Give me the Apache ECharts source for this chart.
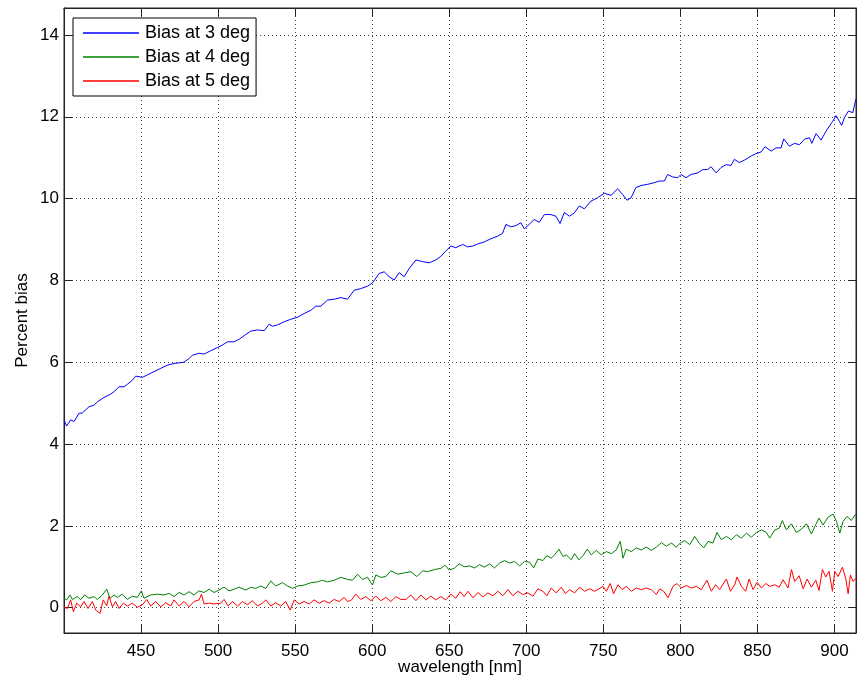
<!DOCTYPE html>
<html><head><meta charset="utf-8">
<script src="https://cdn.jsdelivr.net/npm/echarts@6/dist/echarts.min.js"></script>
<style>html,body{margin:0;padding:0;background:#fff}#c{width:857px;height:685px}</style>
</head><body><div id="c"></div>
<script>
var seriesNames = ['Bias at 3 deg', 'Bias at 4 deg', 'Bias at 5 deg'];
var xTickLabels = [450, 500, 550, 600, 650, 700, 750, 800, 850, 900];
var yTickLabels = [0, 2, 4, 6, 8, 10, 12, 14];

var wl3 = [400,401.7,404.3,406.5,409.7,411.9,416.2,419.5,421.6,426,430.3,432.5,435.7,439,441.1,444.4,446.5,450.9,454.1,458.4,462.8,467.1,471.4,477.9,481.2,483.3,487.7,490.9,495.2,499.6,502.8,506.1,510.4,513.6,518,521.2,525.5,529.9,533.1,535.3,538.5,542.9,547.2,551.5,555.8,560.2,563.4,566.7,571,575.3,579.7,584,588.3,592.6,597,600.2,604.5,607.8,611,614.3,617.5,620.8,624,628.4,632.7,637,641.3,644.6,647.8,651.1,654.3,658.7,661.9,665.2,668.4,672.7,677.1,681.4,684.6,686.8,690,693.3,696.5,698.7,701.9,705.2,708.4,711.7,716,719.3,721.9,724.7,728,731.2,734.4,737.7,742,746.3,750.6,755,759.3,762.6,765.4,768,771.2,774.5,778.8,783.1,786.4,789.6,791.8,795,798.3,800.4,803.7,806.9,811.3,814.5,817.7,819.9,823.2,826.4,829.7,832.9,835.1,838.3,841.6,845.9,849.1,852.4,855,858.9,862.1,865.4,867.1,870.8,874,877.3,880.5,883.8,885.3,888.1,891.3,894.6,896.7,898.9,901.1,903.2,904.7,906.5,909.1,911.9,914];
var bias3 = [4.59,4.44,4.59,4.55,4.75,4.76,4.91,4.95,5.03,5.14,5.22,5.28,5.40,5.40,5.46,5.56,5.66,5.63,5.69,5.77,5.85,5.93,5.97,6.00,6.09,6.17,6.22,6.20,6.28,6.36,6.42,6.50,6.50,6.56,6.68,6.76,6.79,6.77,6.93,6.88,6.91,6.99,7.05,7.10,7.19,7.27,7.37,7.37,7.52,7.54,7.58,7.54,7.76,7.80,7.86,7.94,8.17,8.21,8.09,8.01,8.19,8.09,8.29,8.50,8.46,8.43,8.50,8.59,8.72,8.84,8.80,8.88,8.82,8.84,8.89,8.94,9.02,9.08,9.15,9.37,9.31,9.34,9.41,9.26,9.37,9.49,9.42,9.61,9.61,9.57,9.39,9.66,9.57,9.65,9.82,9.75,9.94,10.02,10.13,10.08,10.24,10.10,9.96,10.02,10.27,10.32,10.35,10.39,10.43,10.43,10.59,10.53,10.51,10.59,10.51,10.59,10.63,10.71,10.71,10.78,10.63,10.76,10.83,10.81,10.96,10.88,10.94,11.04,11.10,11.14,11.27,11.16,11.24,11.24,11.46,11.28,11.35,11.32,11.45,11.49,11.35,11.59,11.43,11.65,11.77,11.89,12.03,11.89,11.79,11.98,12.14,12.10,12.44];

var wl4 = [400,401.7,403.9,405.4,408.7,410.8,413.4,416.2,419.5,421.6,424.9,427.7,429.9,432.5,434.6,437.9,441.1,444.4,447.6,450.2,451.9,456.3,460.6,464.9,468.2,471.4,474.7,477.9,481.2,484.4,487.7,490.9,494.2,497.4,500.6,503.9,507.1,510.4,513.6,518,521.2,524.5,527.7,531,534.2,537.4,541.8,545,548.3,551.5,555.8,560.2,564.5,567.7,571,575.3,579.7,584,587.2,590.5,593.7,597,600.2,602.4,605.6,608.9,612.1,616.5,620.8,625.1,629,632.7,635.9,640.3,644.6,647.2,650,653.2,656.5,659.7,663.2,666.5,669.7,672.9,676.2,679.4,682.7,685.9,689.2,692.4,695.7,698.9,702.2,704.8,707.6,710.8,713.4,716.2,718.4,721.2,723.8,726,729.2,731.4,734.2,736.8,739.6,742.2,745.5,748.7,752,755.2,758.4,761,762.8,764.9,768.2,771.4,774.7,777.9,781.2,784.4,787.7,790.9,794.2,797.4,800,802.8,806.1,809.3,812.6,815.2,818,821.2,823.8,826.6,829.9,833.1,836.4,839.6,842.9,846.1,849.4,852.6,855.8,858,861.3,864.1,866.2,868.8,872.1,875.3,878.6,881.8,885.1,887.2,890,892.6,895.9,899.1,901.3,903.5,905.6,908.2,911,913.9];
var bias4 = [0.23,0.19,0.31,0.20,0.27,0.19,0.31,0.23,0.27,0.20,0.31,0.45,0.23,0.31,0.25,0.33,0.20,0.28,0.25,0.41,0.23,0.31,0.33,0.31,0.35,0.27,0.37,0.31,0.39,0.31,0.41,0.37,0.45,0.37,0.43,0.50,0.41,0.45,0.50,0.43,0.50,0.47,0.53,0.47,0.65,0.53,0.61,0.53,0.47,0.53,0.55,0.61,0.63,0.67,0.63,0.67,0.74,0.69,0.67,0.82,0.69,0.74,0.55,0.80,0.74,0.76,0.90,0.82,0.85,0.88,0.76,0.90,0.88,0.93,0.96,1.04,0.92,0.96,1.07,1.00,1.02,0.97,1.05,0.99,1.07,0.97,1.09,1.15,1.09,1.13,1.02,1.13,1.11,0.97,1.19,1.15,1.27,1.21,1.29,1.43,1.25,1.29,1.17,1.32,1.17,1.27,1.43,1.29,1.40,1.29,1.37,1.32,1.41,1.62,1.21,1.43,1.37,1.46,1.41,1.48,1.40,1.48,1.59,1.50,1.58,1.48,1.58,1.64,1.54,1.74,1.56,1.46,1.62,1.58,1.84,1.66,1.74,1.66,1.78,1.70,1.82,1.72,1.84,1.90,1.84,1.70,1.90,1.94,2.13,1.90,2.05,1.84,1.92,2.05,1.80,1.98,2.19,2.02,2.21,2.29,2.11,1.82,2.11,2.23,2.13,2.29];

var wl5 = [400,402.2,404.3,406.1,408.2,410.8,413,415.6,418.4,420.6,423.4,425.5,427.7,429.2,431.4,433.5,435.7,438.5,441.1,444.4,447.6,450.9,453.7,456.3,459.5,462.8,466,469.3,471.4,474.7,477.9,481.2,484.4,487.7,489.2,490.9,494.2,497.4,501.7,503.9,506.5,509.3,512.6,515.8,519,522.3,525.5,528.8,531,534.2,537.4,540.7,543.9,546.8,549.4,552.6,555.8,559.1,562.3,565.6,568.8,572.1,575.3,578.6,581.8,584,586.6,589.4,592.6,595.9,599.1,602.4,605.6,608.9,612.1,615.4,618.6,621.9,625.1,628.4,631.6,634.8,638.1,641.3,644.6,647.8,651.1,654.3,657.1,659.7,662.1,665.4,668.6,671.9,675.1,678.4,681.6,684.8,688.1,691.3,694.6,697.8,701.1,704.3,707.6,710.8,713.4,716.2,719.5,722.7,725.5,728.1,731.4,734.6,737.9,741.1,744.4,747.2,749.8,752,754.5,756.7,759.5,762.3,764.9,768.2,771.4,774.7,777.9,781.2,784.4,786.6,789.2,792,795.2,797.8,800.6,803.9,807.1,810.4,813.6,817.3,820.1,822.9,825.5,828.1,829.9,832.5,835.3,836.8,839.6,842.4,844.6,847.2,849.8,852.6,855.4,858,861.3,864.1,866.7,869.9,872.1,874.2,877.1,879.7,882.3,885.1,887.9,890,892.2,894.4,896.5,898.7,900.2,902.4,905.2,907.4,908.9,910.4,912.1,913.9];
var bias5 = [0.01,-0.02,0.19,-0.10,0.11,0.02,0.15,-0.02,0.15,-0.06,-0.14,0.19,0.04,0.28,0.02,0.15,-0.02,0.11,0.04,0.11,0.01,0.07,0.20,0.04,0.15,0.02,0.12,0.04,0.19,0.04,0.15,0.02,0.15,0.19,0.33,0.09,0.11,0.09,0.11,0.20,0.04,0.15,0.04,0.15,0.07,0.17,0.04,0.11,0.19,0.04,0.12,0.04,0.15,-0.06,0.19,0.09,0.15,0.09,0.19,0.11,0.17,0.11,0.20,0.15,0.25,0.15,0.19,0.33,0.20,0.27,0.17,0.28,0.17,0.25,0.15,0.27,0.20,0.20,0.31,0.17,0.31,0.19,0.28,0.19,0.27,0.19,0.33,0.23,0.39,0.27,0.40,0.24,0.37,0.26,0.36,0.29,0.40,0.29,0.44,0.29,0.40,0.32,0.36,0.28,0.46,0.40,0.29,0.48,0.36,0.50,0.34,0.44,0.36,0.50,0.40,0.46,0.40,0.46,0.52,0.40,0.59,0.34,0.56,0.44,0.52,0.40,0.48,0.44,0.48,0.44,0.32,0.46,0.40,0.24,0.52,0.59,0.48,0.54,0.48,0.52,0.44,0.67,0.40,0.56,0.44,0.60,0.70,0.40,0.56,0.75,0.52,0.40,0.70,0.44,0.62,0.48,0.59,0.52,0.56,0.50,0.68,0.48,0.93,0.64,0.78,0.46,0.70,0.50,0.67,0.42,0.93,0.75,0.89,0.40,0.89,0.76,0.99,0.70,0.34,0.80,0.64,0.72];

function zip(xs, ys) { return xs.map(function (x, i) { return [x, ys[i]]; }); }

var FONT = 'Liberation Sans, Arial, sans-serif';
var XMIN = 400, XMAX = 914, YMIN = -0.62, YMAX = 14.66;

var chart = echarts.init(document.getElementById('c'), null, { renderer: 'canvas' });
var gridLine = { show: true, lineStyle: { color: '#444', width: 1, type: [1, 3] } };
var axisLineStyle = { show: true, onZero: false, lineStyle: { color: '#222', width: 1 } };
var tickStyle = { show: true, inside: true, length: 8, lineStyle: { color: '#222', width: 1 } };

chart.setOption({
  animation: false,
  backgroundColor: '#fff',
  color: ['#0000ff', '#008000', '#ff0000'],
  grid: { left: 64, top: 8, right: 1, bottom: 52, show: true, borderColor: '#222', borderWidth: 1, backgroundColor: 'transparent' },
  legend: {
    data: seriesNames, orient: 'vertical', left: 73, top: 18,
    icon: 'rect', itemWidth: 56, itemHeight: 1.5, itemGap: 6,
    padding: [6, 6, 6, 10], backgroundColor: '#fff', borderColor: '#000', borderWidth: 1,
    textStyle: { fontFamily: FONT, fontSize: 18, color: '#000', lineHeight: 18, padding: [0, 0, 0, 1] }
  },
  xAxis: [{
    type: 'value', min: XMIN, max: XMAX, interval: 50,
    name: 'wavelength [nm]', nameLocation: 'middle', nameGap: 26, nameMoveOverlap: false,
    nameTextStyle: { fontFamily: FONT, fontSize: 17, color: '#000' },
    axisLine: axisLineStyle, axisTick: tickStyle, splitLine: gridLine,
    axisLabel: { fontFamily: FONT, fontSize: 17, color: '#000', margin: 10, showMinLabel: false, showMaxLabel: false,
      formatter: function (v) { return xTickLabels.indexOf(v) >= 0 ? String(v) : ''; } }
  }, {
    type: 'value', position: 'top', min: XMIN, max: XMAX, interval: 50,
    axisLine: axisLineStyle, axisTick: tickStyle, splitLine: { show: false }, axisLabel: { show: false }
  }],
  yAxis: [{
    type: 'value', min: YMIN, max: YMAX, splitNumber: 8,
    name: 'Percent bias', nameLocation: 'middle', nameGap: 33, nameMoveOverlap: false,
    nameTextStyle: { fontFamily: FONT, fontSize: 17, color: '#000' },
    axisLine: axisLineStyle, axisTick: tickStyle, splitLine: gridLine,
    axisLabel: { fontFamily: FONT, fontSize: 17, color: '#000', margin: 5, showMinLabel: false, showMaxLabel: false,
      formatter: function (v) { return yTickLabels.indexOf(v) >= 0 ? String(v) : ''; } }
  }, {
    type: 'value', position: 'right', min: YMIN, max: YMAX, splitNumber: 8,
    axisLine: axisLineStyle, axisTick: tickStyle, splitLine: { show: false }, axisLabel: { show: false }
  }],
  series: [
    { name: seriesNames[0], type: 'line', data: zip(wl3, bias3), showSymbol: false, symbol: 'none', lineStyle: { width: 1 } },
    { name: seriesNames[1], type: 'line', data: zip(wl4, bias4), showSymbol: false, symbol: 'none', lineStyle: { width: 1 } },
    { name: seriesNames[2], type: 'line', data: zip(wl5, bias5), showSymbol: false, symbol: 'none', lineStyle: { width: 1 } }
  ]
});
</script></body></html>
